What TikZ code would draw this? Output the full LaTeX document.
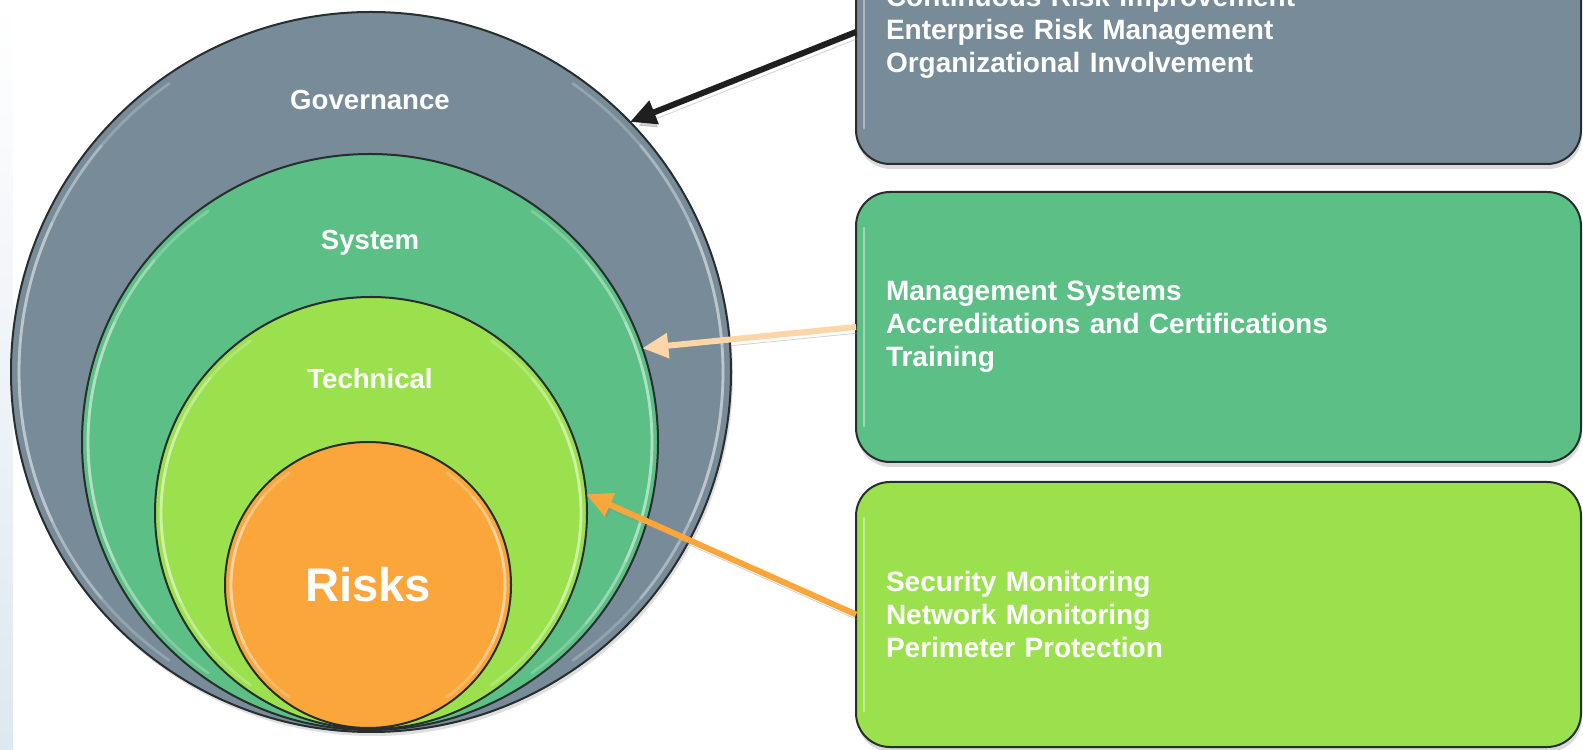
\documentclass[tikz,border=0pt]{standalone}
\usepackage{fontspec}
\setmainfont{Liberation Sans}
\usepackage{tikz}
\usetikzlibrary{arrows.meta, shapes, positioning, calc, shadows}
\definecolor{govgray}{RGB}{119,139,153}
\definecolor{sysgreen}{RGB}{92,191,134}
\definecolor{techgreen}{RGB}{155,225,78}
\definecolor{riskorange}{RGB}{250,166,58}
\definecolor{peach}{RGB}{253,213,166}
\definecolor{darkedge}{RGB}{40,45,45}
\tikzstyle{arrow} = [line width=3pt,-{Triangle[length=13pt,width=12pt]},
  preaction={draw=black!45, opacity=0.4, transform canvas={xshift=1.5pt,yshift=-3pt}}]
\tikzset{
  ringnode/.style={circle, draw=darkedge, line width=1pt, outer sep=0pt, text=white},
  lbl/.style={text=white, text depth=0pt, font=\bfseries\fontsize{13.8}{16}\selectfont},
  infobox/.style={rectangle, rounded corners=17pt, draw=darkedge, line width=1pt, outer sep=0pt,
    minimum width=362.5pt, text width=332.5pt, inner xsep=15pt, align=left, text=white,
    font=\bfseries\fontsize{14}{16.5}\selectfont,
    drop shadow={opacity=0.3, shadow xshift=0.5pt, shadow yshift=-2.5pt}},
  rim/.style={white, opacity=0.22, line width=1.4pt, line cap=round}, % glossy edge
}
% glossy edge on both sides of a ring: #1 node, #2 radius
\newcommand{\gloss}[2]{%
  \foreach \a/\b in {125/235, 140/220, 155/205, -55/55, -40/40, -25/25}
    \draw[rim] ($(#1.center)+(\a:#2)$) arc[start angle=\a, end angle=\b, radius=#2];}
\begin{document}
\begin{tikzpicture}[x=0.5pt, y=0.5pt]
\useasboundingbox (0,0) rectangle (1583,749);
\shade[top color=white, bottom color={rgb,255:red,222;green,232;blue,240}] (0,0) rectangle (13,749);

% nested layers, outside in
\node[ringnode, fill=govgray, minimum size=360pt,
  drop shadow={opacity=0.25, shadow xshift=1pt, shadow yshift=-2pt}] (gov) at (371,377) {};
\gloss{gov}{352}
\node[ringnode, fill=sysgreen, minimum size=288pt] (sys) at (370,307) {};
\gloss{sys}{282}
\node[ringnode, fill=techgreen, minimum size=216pt] (tech) at (371,236) {};
\gloss{tech}{210}
\node[ringnode, fill=riskorange, minimum size=143pt,
  font=\bfseries\fontsize{23.6}{28}\selectfont] (risk) at (368,164) {Risks};
\gloss{risk}{137}

\node[lbl] (govlbl) at (370,649) {Governance};
\node[lbl] (syslbl) at (370,509) {System};
\node[lbl] (techlbl) at (370,370) {Technical};

% what each layer covers
\node[infobox, fill=govgray, minimum height=132pt] (box1) at (1218.5,717)
  {Continuous Risk Improvement\\Enterprise Risk Management\\Organizational Involvement};
\node[infobox, fill=sysgreen, minimum height=135pt] (box2) at (1218.5,422)
  {Management Systems\\Accreditations and Certifications\\Training};
\node[infobox, fill=techgreen, minimum height=132.5pt] (box3) at (1218.5,134.5)
  {Security Monitoring\\Network Monitoring\\Perimeter Protection};
\foreach \b in {box1, box2, box3}
  \draw[rim, opacity=0.4] ([xshift=4pt,yshift=-18pt]\b.north west) -- ([xshift=4pt,yshift=18pt]\b.south west);

\draw[arrow, black!88] (box1.west) -- (gov.44);
\draw[arrow, peach] (box2.west) -- (sys.19);
\draw[arrow, riskorange] (box3.west) -- (tech.5);
\end{tikzpicture}
\end{document}
